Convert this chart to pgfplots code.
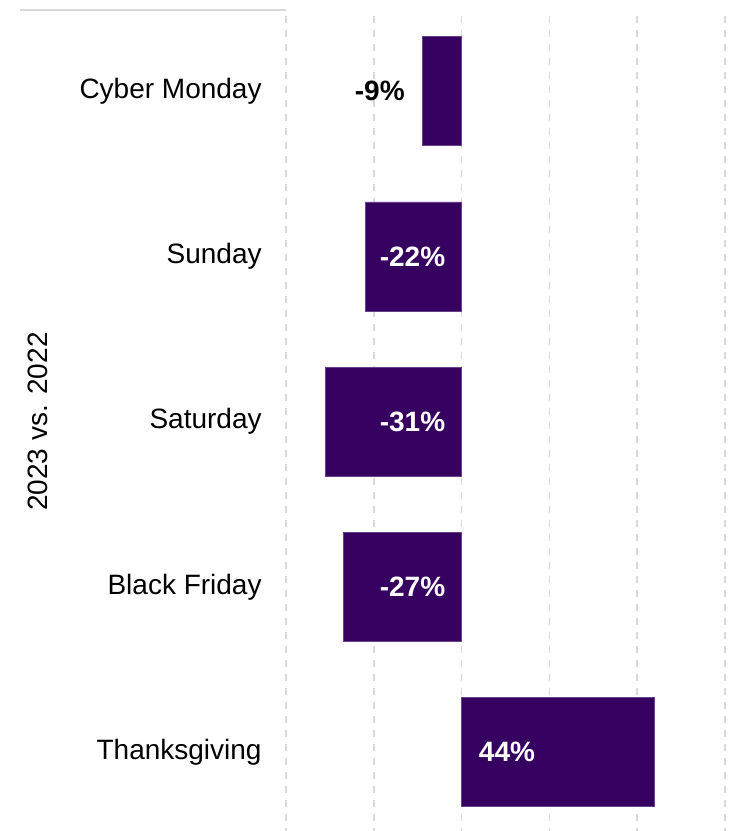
\documentclass[border=0pt]{standalone}
\usepackage{pgfplots}
\pgfplotsset{compat=1.18}
\usepackage{fontspec}
\setmainfont{Liberation Sans}
\definecolor{barpurple}{HTML}{350060}
\definecolor{gridgray}{HTML}{D9D9D9}
\definecolor{zerogray}{HTML}{D0D0D0}

\begin{document}
\begin{tikzpicture}
\useasboundingbox (-143pt,0) rectangle (225.5pt,415.5pt);
\begin{axis}[
    at={(0,-1.8pt)}, anchor=south west,
    scale only axis,
    width=219.5pt, height=413pt,
    xmin=-40, xmax=60, ymin=-0.5, ymax=4.5,
    axis line style={draw=none},
    tick style={draw=none},
    xtick={-40,-20,20,40,60}, xticklabels={},
    xmajorgrids,
    major grid style={gridgray, line width=0.75pt, dash pattern=on 3.5pt off 3.5pt},
    extra x ticks={0}, extra x tick labels={},
    extra x tick style={grid style={solid, zerogray, line width=1pt}},
    ytick={0,1,2,3,4},
    yticklabels={Thanksgiving, Black Friday, Saturday, Sunday, Cyber Monday},
    yticklabel style={font=\fontsize{14}{16.8}\selectfont, inner sep=0pt, xshift=-12pt},
    ylabel={2023 vs. 2022},
    every axis y label/.style={at={(axis description cs:-0.565,0.5)}, rotate=90,
        anchor=center, font=\fontsize{14}{16.8}\selectfont},
    clip=false,
]
% bars
\addplot[xbar, bar width=54.5pt, fill=barpurple, draw=barpurple!75!white, line width=0.4pt]
    coordinates {(44,0) (-27,1) (-31,2) (-22,3) (-9,4)};
% labels inside, negative
\addplot[draw=none, nodes near coords, point meta=explicit symbolic,
    every node near coord/.append style={anchor=east, inner sep=0pt, xshift=-8pt, text=white,
        font=\bfseries\fontsize{14}{16.8}\selectfont}]
    coordinates {(0,1) [-27\%] (0,2) [-31\%] (0,3) [-22\%]};
% label inside, positive
\addplot[draw=none, nodes near coords, point meta=explicit symbolic,
    every node near coord/.append style={anchor=west, inner sep=0pt, xshift=8.5pt, text=white,
        font=\bfseries\fontsize{14}{16.8}\selectfont}]
    coordinates {(0,0) [44\%]};
% label outside
\addplot[draw=none, nodes near coords, point meta=explicit symbolic,
    every node near coord/.append style={anchor=east, inner sep=0pt, xshift=-8.5pt, text=black,
        font=\bfseries\fontsize{14}{16.8}\selectfont}]
    coordinates {(-9,4) [-9\%]};
\end{axis}
\draw[gridgray, line width=1pt] (-133pt,410.5pt) -- (0,410.5pt);
\end{tikzpicture}
\end{document}
